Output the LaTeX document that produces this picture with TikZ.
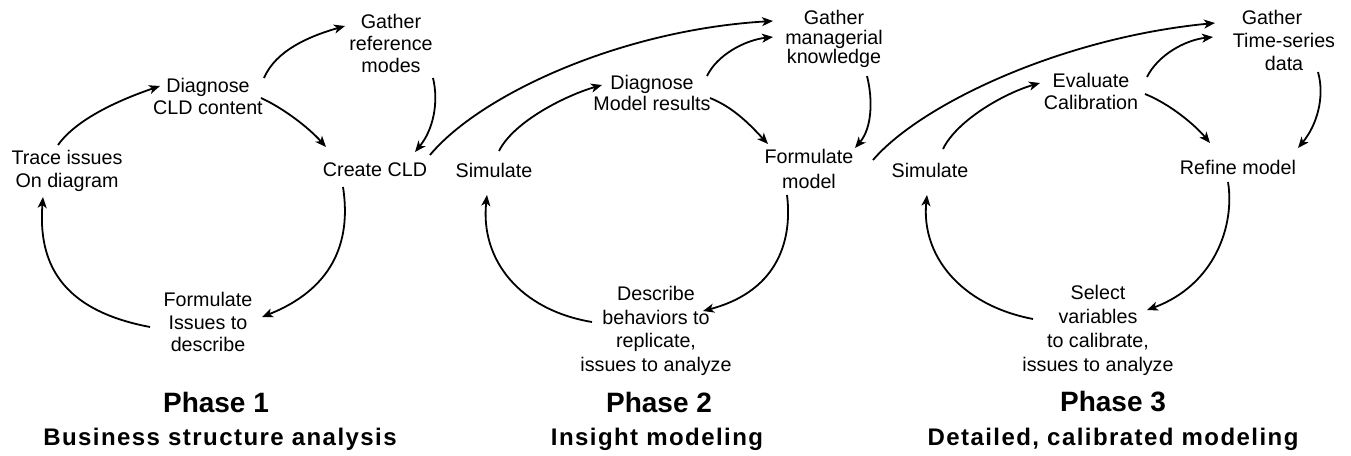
\documentclass[tikz,border=0pt]{standalone}
\usepackage{fontspec}
\setmainfont{Liberation Sans}
\newfontfamily\subfont[LetterSpace=6]{Liberation Sans}
\usetikzlibrary{arrows.meta,calc}
\begin{document}
\begin{tikzpicture}[x=1pt,y=-1pt,
  lbl/.style={align=center, inner sep=0pt, font=\fontsize{19.7}{#1}\selectfont},
  lbl/.default=22,
  arr/.style={line width=1.8pt, -{Stealth[length=11pt,width=9pt,inset=3pt]}},
  ttl/.style={inner sep=0pt, font=\fontsize{28}{32}\selectfont\bfseries},
  phasesub/.style={inner sep=0pt, font=\subfont\fontsize{24}{28}\selectfont\bfseries}]
\useasboundingbox (0,0) rectangle (1351,455);
% Phase 1
\node[lbl=23] (trace) at (67,171) {Trace issues\\On diagram};
\node[lbl] (diag1) at (208,96) {Diagnose\\CLD content};
\node[lbl] (gath1) at (391,43) {Gather\\reference\\modes};
\node[lbl] (create) at (375,170) {Create CLD};
\node[lbl=22.5] (form1) at (208,322) {Formulate\\Issues to\\describe};
\node[ttl] (ph1) at (216,402) {Phase 1};
\node[phasesub] (sub1) at (220,439) {Business structure analysis};
% Phase 2
\node[lbl] (sim2) at (494,170) {Simulate};
\node[lbl=21] (diag2) at (652,93) {Diagnose\\Model results};
\node[lbl=19.5] (gath2) at (834,39) {Gather\\managerial\\knowledge};
\node[lbl=25] (formm) at (809,169) {Formulate\\model};
\node[lbl=23.5] (desc) at (656,331) {Describe\\behaviors to\\replicate,\\issues to analyze};
\node[ttl] (ph2) at (659,402) {Phase 2};
\node[phasesub] (sub2) at (657,439) {Insight modeling};
% Phase 3
\node[lbl] (sim3) at (930,170) {Simulate};
\node[lbl] (eval) at (1091,91) {Evaluate\\Calibration};
\node[lbl=23] (gath3) at (1284,40) {Gather\kern24pt\\Time-series\\data};
\node[lbl] (refine) at (1238,167) {Refine model};
\node[lbl=24] (select) at (1098,330) {Select\\variables\\to calibrate,\\issues to analyze};
\node[ttl] (ph3) at (1113,402) {Phase 3};
\node[phasesub] (sub3) at (1113,439) {Detailed, calibrated modeling};
% Phase 1 arrows
\draw[arr] ($(trace)+(-9,-26)$) .. controls +(20,-28) and +(-35,12) .. ($(diag1)+(-48,-10)$);
\draw[arr] ($(diag1)+(56,-18)$) .. controls +(12,-28) and +(-35,10) .. ($(gath1)+(-46,-17)$);
\draw[arr] ($(gath1)+(42,35)$) .. controls +(6,25) and +(18,-22) .. ($(create)+(40,-18)$);
\draw[arr] ($(diag1)+(53,2)$) .. controls +(22,10) and +(-18,-20) .. ($(create)+(-49,-23)$);
\draw[arr] ($(create)+(-32,17)$) .. controls +(9,58) and +(68,-27) .. ($(form1)+(54,-5)$);
\draw[arr] ($(form1)+(-58,5)$) .. controls +(-90,-17) and +(-5,65) .. ($(trace)+(-24,26)$);
\draw[arr] ($(create)+(55,-15)$) .. controls +(50,-60) and +(-153,9) .. ($(gath2)+(-61,-18)$);
% Phase 2 arrows
\draw[arr] ($(sim2)+(5,-19)$) .. controls +(15,-30) and +(-35,10) .. ($(diag2)+(-50,-8)$);
\draw[arr] ($(diag2)+(55,-17)$) .. controls +(10,-21) and +(-28,3) .. ($(gath2)+(-61,-2)$);
\draw[arr] ($(diag2)+(58,5)$) .. controls +(25,10) and +(-16,-17) .. ($(formm)+(-41,-25)$);
\draw[arr] ($(gath2)+(33,37)$) .. controls +(6,24) and +(17,-20) .. ($(formm)+(46,-21)$);
\draw[arr] ($(formm)+(-22,26)$) .. controls +(5,40) and +(79,-21) .. ($(desc)+(47,-20)$);
\draw[arr] ($(desc)+(-64,-9)$) .. controls +(-72,-12) and +(-7,65) .. ($(sim2)+(-7,25)$);
\draw[arr] ($(formm)+(64,-9)$) .. controls +(47,-55) and +(-155,15) .. ($(gath3)+(-69,-17)$);
% Phase 3 arrows
\draw[arr] ($(sim3)+(13,-21)$) .. controls +(14,-29) and +(-35,10) .. ($(eval)+(-51,-8)$);
\draw[arr] ($(eval)+(56,-14)$) .. controls +(11,-22) and +(-28,3) .. ($(gath3)+(-71,-3)$);
\draw[arr] ($(eval)+(54,3)$) .. controls +(25,10) and +(-15,-18) .. ($(refine)+(-28,-24)$);
\draw[arr] ($(gath3)+(34,32)$) .. controls +(7,25) and +(19,-23) .. ($(refine)+(60,-19)$);
\draw[arr] ($(refine)+(-10,15)$) .. controls +(7,43) and +(68,-25) .. ($(select)+(49,-20)$);
\draw[arr] ($(select)+(-65,-11)$) .. controls +(-73,-14) and +(-6,60) .. ($(sim3)+(-3,25)$);
\end{tikzpicture}
\end{document}
